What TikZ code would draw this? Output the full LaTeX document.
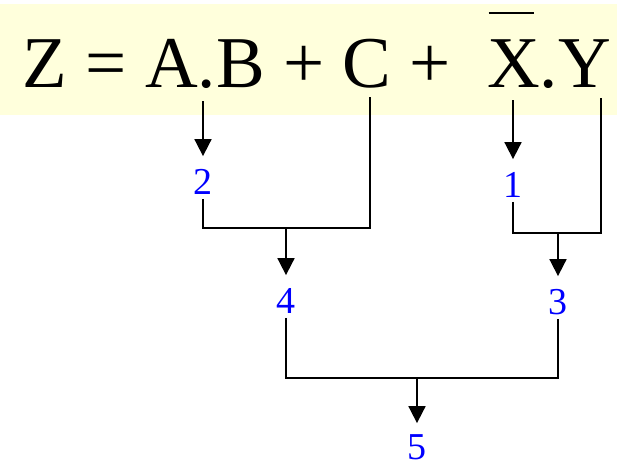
\documentclass[tikz,border=0pt]{standalone}
\usepackage{fontspec}
\setmainfont{Liberation Serif}
\usetikzlibrary{arrows.meta,positioning}
\definecolor{amarillo}{HTML}{FFFFDC}
\definecolor{azul}{HTML}{0000FF}
\newcommand{\barra}[1]{\makebox[0pt][l]{\hspace{0.02em}\rule[1.02em]{0.62em}{0.018em}}#1}

\begin{document}
\begin{tikzpicture}[x=1pt,y=-1pt,line width=1.8pt,
    paso/.style={font=\fontsize{38}{40}\selectfont,text=azul,inner sep=0pt,text height=37pt,text depth=4pt,anchor=base},
    flecha/.style={-{Triangle[length=17pt,width=17pt]}}]
        \useasboundingbox (0,0) rectangle (617,468);
        \fill[amarillo] (0,4) rectangle (617,115);
        \node[anchor=base west,inner sep=0pt,font=\fontsize{73}{80}\selectfont] (expr) at (22,88) {Z = A.B + C + \ \barra{X}.Y};
        % terminos de la expresion
        \coordinate (tAB) at (203,101);
        \coordinate (tC) at (370,97);
        \coordinate (tX) at (513,100);
        \coordinate (tY) at (601,98);
        % orden de evaluacion
        \node[paso] (n2) at (203,194) {2};
        \node[paso] (n1) at (513,197) {1};
        \node[paso] (n4) at (286,313) {4};
        \node[paso] (n3) at (558,314) {3};
        \node[paso,text height=35pt] (n5) at (417,459) {5};
        \coordinate (m24) at (286,228);
        \coordinate (m13) at (558,233);
        \coordinate (m5) at (417,378);
        \draw[flecha] (tAB) -- (n2);
        \draw[flecha] (tX) -- (n1);
        \draw (n2.south) |- (m24) -| (tC);
        \draw (n1.south) |- (m13) -| (tY);
        \draw[flecha] (m24) -- (n4);
        \draw[flecha] (m13) -- (n3);
        \draw (n4.south) |- (m5) -| (n3.south);
        \draw[flecha] (m5) -- (n5);
      \end{tikzpicture}
\end{document}
